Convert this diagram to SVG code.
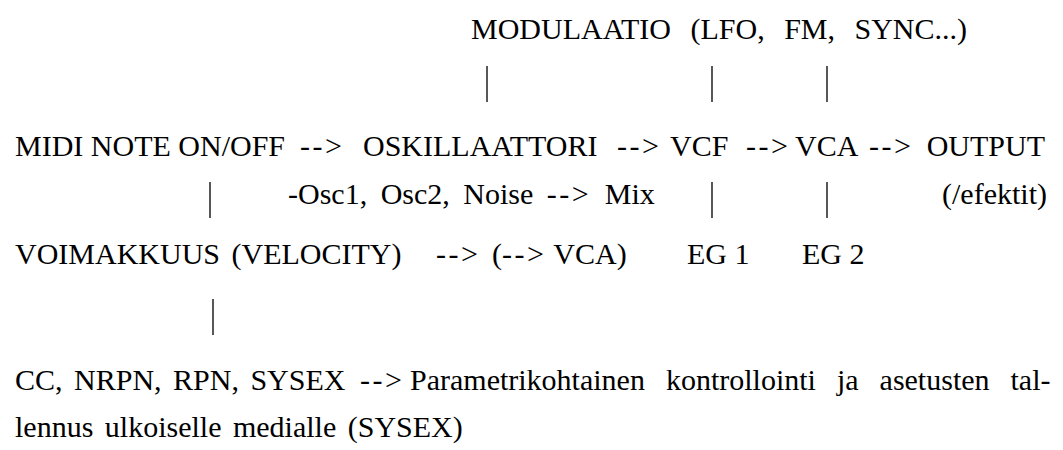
<svg xmlns="http://www.w3.org/2000/svg" width="1063" height="450" viewBox="0 0 1063 450">
<style>
text{font-family:"Liberation Serif","Times New Roman",serif;font-size:30px;fill:#000;}
.ar{letter-spacing:2.5px;}
.ws{word-spacing:4px;}
.bar{stroke:#111;stroke-width:1.4;}
</style>
<rect width="1063" height="450" fill="#fff"/>
<g id="connectors">
<line class="bar" x1="487" y1="66" x2="487" y2="102"/>
<line class="bar" x1="712" y1="66" x2="712" y2="102"/>
<line class="bar" x1="827" y1="66" x2="827" y2="102"/>
<line class="bar" x1="210" y1="182" x2="210" y2="218"/>
<line class="bar" x1="712" y1="182" x2="712" y2="218"/>
<line class="bar" x1="827" y1="182" x2="827" y2="218"/>
<line class="bar" x1="213" y1="299" x2="213" y2="335"/>
<text class="ar" x="300" y="156">--&gt;</text>
<text class="ar" x="617" y="156">--&gt;</text>
<text class="ar" x="746" y="156">--&gt;</text>
<text class="ar" x="869" y="156">--&gt;</text>
<text class="ar" x="436" y="264">--&gt;</text>
<text class="ar" x="360" y="390">--&gt;</text>
</g>
<g id="modulaatio"><text x="471" y="39" style="word-spacing:12px">MODULAATIO (LFO, FM, SYNC...)</text></g>
<g id="midi"><text x="15" y="156">MIDI NOTE ON/OFF</text></g>
<g id="oskillaattori"><text x="363" y="156">OSKILLAATTORI</text></g>
<g id="vcf"><text x="670" y="156">VCF</text></g>
<g id="vca"><text x="795" y="156">VCA</text></g>
<g id="output"><text x="1045" y="156" text-anchor="end">OUTPUT</text></g>
<g id="osc"><text x="288" y="204" style="word-spacing:6px">-Osc1, Osc2, Noise <tspan class="ar">--&gt;</tspan> Mix</text></g>
<g id="efektit"><text x="1047" y="204" text-anchor="end">(/efektit)</text></g>
<g id="voimakkuus"><text class="ws" x="15" y="264">VOIMAKKUUS (VELOCITY)</text></g>
<g id="vca2"><text x="492" y="264">(<tspan class="ar">--&gt;</tspan> VCA)</text></g>
<g id="eg1"><text x="687" y="264">EG 1</text></g>
<g id="eg2"><text x="802" y="264">EG 2</text></g>
<g id="cc"><text class="ws" x="15" y="390">CC, NRPN, RPN, SYSEX</text></g>
<g id="param"><text x="410" y="390" style="word-spacing:13.5px">Parametrikohtainen kontrollointi ja asetusten tal-</text></g>
<g id="lennus"><text class="ws" x="15" y="437">lennus ulkoiselle medialle (SYSEX)</text></g>
</svg>
